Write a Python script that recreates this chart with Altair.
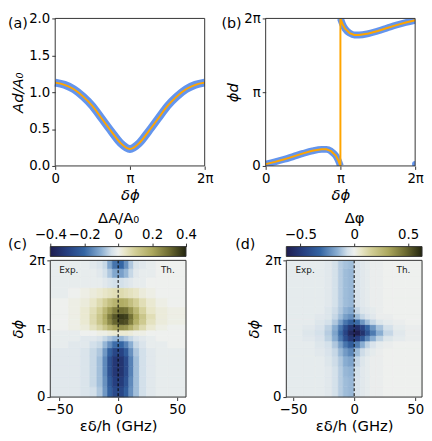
import altair as alt
import pandas as pd

# ---------------- data ----------------
# (a) amplitude vs phase difference (x in units of pi)
dphi_a = [0, 0.125, 0.25, 0.375, 0.5, 0.625, 0.75, 0.875, 1.0,
          1.125, 1.25, 1.375, 1.5, 1.625, 1.75, 1.875, 2.0]
amp_a = [1.13, 1.10, 1.04, 0.94, 0.81, 0.64, 0.47, 0.31, 0.23,
         0.31, 0.47, 0.64, 0.81, 0.94, 1.04, 1.10, 1.13]

# (b) phase (units of pi), lower and upper branch
dphi_b_low = [0, 0.125, 0.25, 0.375, 0.5, 0.625, 0.75, 0.8125, 0.875, 0.9375, 0.97, 1.0]
phid_b_low = [0.025, 0.055, 0.09, 0.13, 0.17, 0.205, 0.225, 0.225, 0.20, 0.14, 0.08, 0.0]
dphi_b_up = [1.0, 1.03, 1.0625, 1.125, 1.1875, 1.25, 1.375, 1.5, 1.625, 1.75, 1.875, 2.0]
phid_b_up = [2.0, 1.92, 1.86, 1.80, 1.775, 1.775, 1.795, 1.83, 1.87, 1.91, 1.945, 1.975]
dphi_b_wrap = [2.0]
phid_b_wrap = [0.025]

# heatmap grids
y_edges = [0, 0.15, 0.3, 0.45, 0.6, 0.72, 0.82, 0.9, 0.98, 1.06, 1.14, 1.22,
           1.32, 1.45, 1.6, 1.75, 1.88, 2.0]
x_edges_c = [-57.5, -42, -32, -24, -18, -13, -9, -5, 0, 5, 9, 13, 18, 24, 32, 42, 57.5]
x_edges_d = [-55.5, -42, -32, -24, -18, -13, -9, -5, 0, 5, 9, 13, 18, 24, 32, 42, 55.5]

dA = [
    [-0.02, -0.02, -0.03, -0.04, -0.07, -0.13, -0.21, -0.27, -0.28, -0.22, -0.14, -0.08, -0.04, -0.02, -0.01, -0.01],
    [-0.02, -0.02, -0.03, -0.05, -0.08, -0.14, -0.23, -0.30, -0.31, -0.25, -0.15, -0.08, -0.04, -0.02, -0.01, -0.01],
    [-0.02, -0.02, -0.03, -0.05, -0.08, -0.15, -0.25, -0.32, -0.33, -0.27, -0.16, -0.08, -0.04, -0.02, -0.01, -0.01],
    [-0.02, -0.02, -0.03, -0.05, -0.08, -0.15, -0.25, -0.32, -0.33, -0.27, -0.16, -0.08, -0.04, -0.02, -0.01, -0.01],
    [-0.02, -0.02, -0.03, -0.05, -0.07, -0.13, -0.21, -0.28, -0.29, -0.23, -0.14, -0.07, -0.04, -0.02, -0.01, -0.01],
    [-0.01, -0.02, -0.02, -0.04, -0.05, -0.09, -0.14, -0.19, -0.20, -0.16, -0.10, -0.05, -0.03, -0.01, -0.01, 0.0],
    [-0.01, -0.01, -0.02, -0.02, -0.03, -0.05, -0.07, -0.09, -0.09, -0.07, -0.05, -0.03, -0.02, -0.01, 0.0, 0.0],
    [-0.01, -0.01, 0.0, 0.0, 0.01, 0.01, 0.02, 0.03, 0.03, 0.03, 0.02, 0.01, 0.01, 0.0, 0.0, 0.0],
    [0.0, 0.01, 0.02, 0.05, 0.08, 0.12, 0.17, 0.21, 0.24, 0.23, 0.18, 0.12, 0.07, 0.03, 0.01, 0.0],
    [0.0, 0.01, 0.03, 0.07, 0.12, 0.18, 0.25, 0.31, 0.35, 0.34, 0.27, 0.18, 0.11, 0.05, 0.02, 0.01],
    [0.0, 0.01, 0.03, 0.07, 0.12, 0.19, 0.27, 0.33, 0.37, 0.36, 0.29, 0.20, 0.12, 0.06, 0.02, 0.01],
    [0.0, 0.01, 0.03, 0.06, 0.10, 0.16, 0.22, 0.27, 0.30, 0.29, 0.23, 0.16, 0.09, 0.04, 0.02, 0.01],
    [0.0, 0.01, 0.02, 0.04, 0.07, 0.10, 0.14, 0.17, 0.19, 0.18, 0.14, 0.10, 0.06, 0.03, 0.01, 0.0],
    [-0.01, 0.0, 0.01, 0.02, 0.03, 0.04, 0.05, 0.06, 0.07, 0.06, 0.05, 0.04, 0.02, 0.01, 0.0, 0.0],
    [-0.01, -0.01, -0.01, -0.01, -0.01, -0.02, -0.03, -0.04, -0.04, -0.03, -0.02, -0.01, -0.01, 0.0, 0.0, 0.0],
    [-0.01, -0.01, -0.01, -0.01, -0.02, -0.04, -0.07, -0.11, -0.12, -0.09, -0.05, -0.02, -0.01, -0.01, 0.0, 0.0],
    [-0.01, -0.01, -0.01, -0.02, -0.03, -0.05, -0.11, -0.18, -0.20, -0.14, -0.07, -0.03, -0.02, -0.01, 0.0, 0.0],
]

dPhi = [
    [-0.02, -0.02, -0.02, -0.03, -0.06, -0.10, -0.13, -0.14, -0.05, -0.03, -0.02, -0.01, -0.01, 0.0, 0.0, 0.0],
    [-0.02, -0.02, -0.02, -0.03, -0.06, -0.10, -0.13, -0.14, -0.05, -0.03, -0.02, -0.01, -0.01, 0.0, 0.0, 0.0],
    [-0.02, -0.02, -0.02, -0.03, -0.06, -0.10, -0.14, -0.15, -0.06, -0.03, -0.02, -0.01, -0.01, 0.0, 0.0, 0.0],
    [-0.02, -0.02, -0.02, -0.04, -0.07, -0.11, -0.16, -0.18, -0.08, -0.04, -0.02, -0.01, -0.01, 0.0, 0.0, 0.0],
    [-0.02, -0.02, -0.03, -0.05, -0.08, -0.14, -0.20, -0.24, -0.13, -0.07, -0.04, -0.02, -0.01, 0.0, 0.0, 0.0],
    [-0.02, -0.02, -0.04, -0.06, -0.11, -0.19, -0.28, -0.35, -0.26, -0.16, -0.09, -0.05, -0.02, -0.01, 0.0, 0.0],
    [-0.02, -0.03, -0.05, -0.09, -0.16, -0.27, -0.40, -0.50, -0.48, -0.37, -0.25, -0.16, -0.09, -0.04, -0.02, -0.01],
    [-0.02, -0.04, -0.06, -0.10, -0.18, -0.30, -0.45, -0.58, -0.62, -0.53, -0.39, -0.27, -0.16, -0.08, -0.03, -0.01],
    [-0.02, -0.03, -0.05, -0.09, -0.16, -0.27, -0.40, -0.51, -0.54, -0.45, -0.32, -0.21, -0.12, -0.06, -0.02, -0.01],
    [-0.02, -0.02, -0.04, -0.06, -0.11, -0.19, -0.28, -0.34, -0.30, -0.21, -0.13, -0.08, -0.04, -0.02, -0.01, 0.0],
    [-0.02, -0.02, -0.03, -0.04, -0.08, -0.13, -0.19, -0.22, -0.13, -0.08, -0.05, -0.03, -0.01, -0.01, 0.0, 0.0],
    [-0.02, -0.02, -0.02, -0.04, -0.07, -0.11, -0.15, -0.17, -0.08, -0.04, -0.03, -0.02, -0.01, 0.0, 0.0, 0.0],
    [-0.02, -0.02, -0.02, -0.03, -0.06, -0.10, -0.13, -0.14, -0.05, -0.03, -0.02, -0.01, -0.01, 0.0, 0.0, 0.0],
    [-0.02, -0.02, -0.02, -0.03, -0.06, -0.10, -0.13, -0.14, -0.05, -0.03, -0.02, -0.01, -0.01, 0.0, 0.0, 0.0],
    [-0.02, -0.02, -0.02, -0.03, -0.06, -0.10, -0.13, -0.14, -0.05, -0.03, -0.02, -0.01, -0.01, 0.0, 0.0, 0.0],
    [-0.02, -0.02, -0.02, -0.03, -0.06, -0.10, -0.13, -0.14, -0.05, -0.03, -0.02, -0.01, -0.01, 0.0, 0.0, 0.0],
    [-0.02, -0.02, -0.02, -0.03, -0.06, -0.10, -0.12, -0.13, -0.05, -0.03, -0.02, -0.01, -0.01, 0.0, 0.0, 0.0],
]

vmax_c = 0.4
vmax_d = 0.63
cbar_ticks_c = [-0.4, -0.2, 0, 0.2, 0.4]
cbar_ticks_d = [-0.5, 0, 0.5]
heat_xticks = [-50, 0, 50]
pi_ticks = [0, 1, 2]
amp_ticks = [0, 0.5, 1, 1.5, 2]

cmap_t = [-1, -0.75, -0.5, -0.25, -0.1, 0, 0.1, 0.25, 0.5, 0.75, 1]
cmap_col = ["#1f1d4f", "#263f80", "#3465a3", "#8aaed2", "#d3e0ea", "#eef0ee",
            "#e8e6c8", "#d2ce96", "#aca85e", "#6e6c32", "#22240f"]

# ---------------- style ----------------
FONT = "DejaVu Sans"
BLUE = "#6495ED"
ORANGE = "#FFA500"
SPINE = "#333333"
PI_EXPR = "datum.value == 0 ? '0' : (datum.value == 1 ? 'π' : '2π')"
ZERO_EXPR = "datum.value == 0 ? '0' : datum.label"


def panel_label(txt, dx, dy):
    return alt.Chart(pd.DataFrame({"t": [txt]})).mark_text(
        align="left", baseline="top", font=FONT, fontSize=14.5, color="black"
    ).encode(text="t:N", x=alt.value(dx), y=alt.value(dy))


def spacer(w, h):
    return alt.Chart(pd.DataFrame({"s": [0]})).mark_rule(opacity=0).encode(
        x=alt.value(0), y=alt.value(0), y2=alt.value(0)
    ).properties(width=w, height=h)


def frame(xs, ys, xlo, xhi, ylo, yhi, xf, yf):
    df = pd.DataFrame({xf: [xlo], xf + "_2": [xhi], yf: [ylo], yf + "_2": [yhi]})
    return alt.Chart(df).mark_rect(filled=False, stroke=SPINE, strokeWidth=1).encode(
        x=xs, x2=f"{xf}_2:Q", y=ys, y2=f"{yf}_2:Q")


# ---------------- panel (a) ----------------
A_OFF, A_W, AB_H = 5, 152, 150
df_a = pd.DataFrame({"x": dphi_a, "y": amp_a})
xa = alt.X("x:Q", scale=alt.Scale(domain=[0, 2], nice=False, zero=False, range=[A_OFF, A_OFF + A_W]),
           axis=alt.Axis(values=pi_ticks, labelExpr=PI_EXPR, title="δϕ", titleFontStyle="italic"))
ya = alt.Y("y:Q", scale=alt.Scale(domain=[0, 2], nice=False),
           axis=alt.Axis(values=amp_ticks, format=".1f", title="Ad/A₀", titleFontStyle="italic",
                         offset=-A_OFF))
base_a = alt.Chart(df_a).encode(x=xa, y=ya)
pa = alt.layer(
    base_a.mark_line(color=BLUE, strokeWidth=8, interpolate="monotone", clip=True),
    base_a.mark_line(color=ORANGE, strokeWidth=2, interpolate="monotone", clip=True),
    frame(xa, ya, 0, 2, 0, 2, "x", "y"),
    panel_label("(a)", A_OFF - 48, -1),
).properties(width=A_OFF + A_W, height=AB_H)

# ---------------- panel (b) ----------------
df_b = pd.concat([
    pd.DataFrame({"x": dphi_b_low, "y": phid_b_low, "branch": "low"}),
    pd.DataFrame({"x": dphi_b_up, "y": phid_b_up, "branch": "up"}),
], ignore_index=True)
df_b["order"] = range(len(df_b))
df_bw = pd.DataFrame({"x": dphi_b_wrap, "y": phid_b_wrap})
xb = alt.X("x:Q", scale=alt.Scale(domain=[0, 2], nice=False, zero=False),
           axis=alt.Axis(values=pi_ticks, labelExpr=PI_EXPR, title="δϕ", titleFontStyle="italic"))
yb = alt.Y("y:Q", scale=alt.Scale(domain=[0, 2], nice=False),
           axis=alt.Axis(values=pi_ticks, labelExpr=PI_EXPR, title="ϕd", titleFontStyle="italic"))
pb = alt.layer(
    alt.Chart(df_b).mark_line(color=BLUE, strokeWidth=7, interpolate="monotone", clip=True).encode(
        x=xb, y=yb, detail="branch:N"),
    alt.Chart(df_bw).mark_circle(color=BLUE, size=40, opacity=1, clip=True).encode(x=xb, y=yb),
    alt.Chart(df_b).mark_line(color=ORANGE, strokeWidth=2, clip=True).encode(
        x=xb, y=yb, order="order:Q"),
    frame(xb, yb, 0, 2, 0, 2, "x", "y"),
    panel_label("(b)", -45, -1),
).properties(width=152, height=AB_H)


# ---------------- colorbars ----------------
def colorbar(vmax, ticks, title, lbl, lbl_dx, off, w):
    grad = alt.LinearGradient(
        gradient="linear",
        stops=[alt.GradientStop(color=c, offset=(t + 1) / 2) for t, c in zip(cmap_t, cmap_col)],
        x1=0, x2=1, y1=0, y2=0,
    )
    df = pd.DataFrame({"lo": [-vmax], "hi": [vmax]})
    bar = alt.Chart(df).mark_rect(color=grad, stroke=SPINE, strokeWidth=1).encode(
        x=alt.X("lo:Q", scale=alt.Scale(domain=[-vmax, vmax], nice=False, zero=False, range=[off, off + w]),
                axis=alt.Axis(orient="top", values=ticks, format=".1f", labelExpr=ZERO_EXPR,
                              title=title, titlePadding=2)),
        x2="hi:Q",
        y=alt.value(0), y2=alt.value(10),
    )
    return alt.layer(bar, panel_label(lbl, off + lbl_dx, -9)).properties(width=off + w, height=10)


def grid_df(xe, ye, vals):
    rows = []
    for j in range(len(ye) - 1):
        for i in range(len(xe) - 1):
            rows.append({"x0": xe[i], "x1": xe[i + 1], "y0": ye[j], "y1": ye[j + 1], "v": vals[j][i]})
    return pd.DataFrame(rows)


def heatmap(xe, vals, vmax, off, w, h, exp_x, th_x):
    df = grid_df(xe, y_edges, vals)
    sc = alt.Scale(domain=[t * vmax for t in cmap_t], range=cmap_col, interpolate="rgb", clamp=True)
    xs = alt.X("x0:Q", scale=alt.Scale(domain=[xe[0], xe[-1]], nice=False, zero=False, range=[off, off + w]),
               axis=alt.Axis(values=heat_xticks, format="d", title="εδ/h (GHz)"))
    ys = alt.Y("y0:Q", scale=alt.Scale(domain=[0, 2], nice=False, zero=False),
               axis=alt.Axis(values=pi_ticks, labelExpr=PI_EXPR, title="δϕ", titleFontStyle="italic",
                             offset=-off))
    rects = alt.Chart(df).mark_rect(strokeWidth=0.6).encode(
        x=xs, x2="x1:Q", y=ys, y2="y1:Q",
        color=alt.Color("v:Q", scale=sc, legend=None),
        stroke=alt.Stroke("v:Q", scale=sc, legend=None),
    )
    zero = alt.Chart(pd.DataFrame({"x0": [0]})).mark_rule(
        color="black", strokeDash=[3, 2], strokeWidth=1).encode(x=xs)
    exp_t = alt.Chart(pd.DataFrame({"x0": [exp_x], "y0": [1.86], "t": ["Exp."]})).mark_text(
        align="left", baseline="middle", font=FONT, fontSize=9, color="#222").encode(x=xs, y=ys, text="t:N")
    th_t = alt.Chart(pd.DataFrame({"x0": [th_x], "y0": [1.86], "t": ["Th."]})).mark_text(
        align="right", baseline="middle", font=FONT, fontSize=9, color="#222").encode(x=xs, y=ys, text="t:N")
    fr = frame(xs, ys, xe[0], xe[-1], 0, 2, "x0", "y0")
    return alt.layer(rects, zero, exp_t, th_t, fr).properties(width=off + w, height=h)


D_OFF = 21
HW, HH = 138, 139
cbar_c = colorbar(vmax_c, cbar_ticks_c, "ΔA/A₀", "(c)", -43, 0, HW)
cbar_d = colorbar(vmax_d, cbar_ticks_d, "Δφ", "(d)", -52, D_OFF, HW)
heat_c = heatmap(x_edges_c, dA, vmax_c, 0, HW, HH, -50, 48)
heat_d = heatmap(x_edges_d, dPhi, vmax_d, D_OFF, HW, HH, -48, 46)

GAP = 74
chart = alt.concat(
    pa, spacer(62, AB_H), pb,
    spacer(1, GAP), spacer(1, GAP), spacer(1, GAP),
    cbar_c, spacer(1, 10), cbar_d,
    heat_c, spacer(1, HH), heat_d,
    columns=3, spacing={"row": 4, "column": 0}, bounds="flush",
).resolve_scale(
    color="independent", stroke="independent"
).properties(
    padding=0, background="white"
).configure_view(
    stroke=None
).configure_axis(
    labelFont=FONT, labelFontSize=13.5, labelColor="black",
    titleFont=FONT, titleFontSize=15, titleFontWeight="normal", titleColor="black",
    tickColor=SPINE, tickSize=3.5, tickWidth=1, domain=False, grid=False,
    labelPadding=2, titlePadding=3, labelFlush=False, labelOverlap=False,
)

chart.save("out.html", embed_options={"renderer": "svg", "actions": False})
